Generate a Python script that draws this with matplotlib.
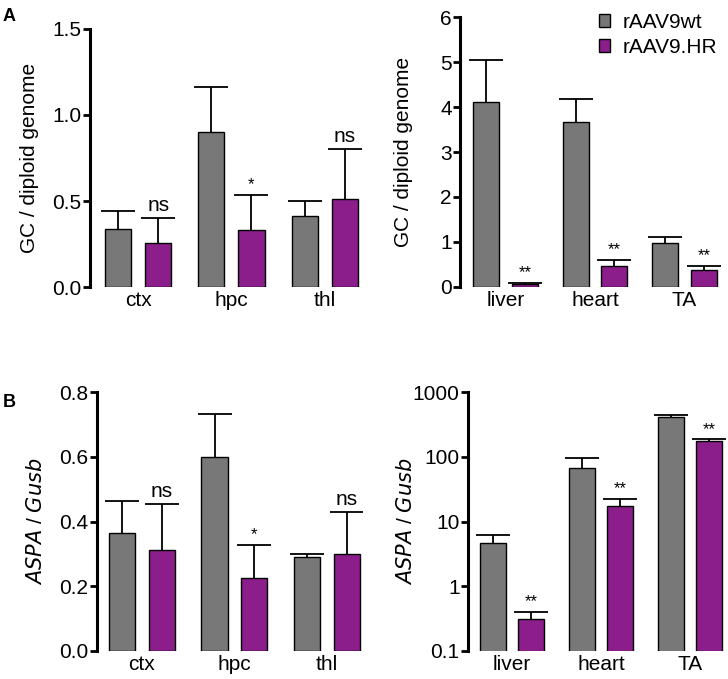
import numpy as np
import matplotlib.pyplot as plt
from matplotlib.patches import Patch

plt.rcParams['font.family'] = ['Liberation Sans', 'DejaVu Sans']

GRAY = '#787878'
PURPLE = '#8c1e8c'
FS = 15

# panel A: vector genome copies
brain_regions = ['ctx', 'hpc', 'thl']
gc_brain_wt = [0.337, 0.899, 0.415]
gc_brain_wt_err = [0.107, 0.264, 0.087]
gc_brain_hr = [0.256, 0.333, 0.514]
gc_brain_hr_err = [0.144, 0.204, 0.288]
gc_brain_sig = ['ns', '*', 'ns']

tissues = ['liver', 'heart', 'TA']
gc_tis_wt = [4.11, 3.66, 0.97]
gc_tis_wt_err = [0.94, 0.53, 0.14]
gc_tis_hr = [0.05, 0.47, 0.37]
gc_tis_hr_err = [0.025, 0.13, 0.10]
gc_tis_sig = ['**', '**', '**']

# panel B: ASPA expression
aspa_brain_wt = [0.363, 0.600, 0.289]
aspa_brain_wt_err = [0.100, 0.134, 0.010]
aspa_brain_hr = [0.313, 0.224, 0.300]
aspa_brain_hr_err = [0.142, 0.104, 0.129]
aspa_brain_sig = ['ns', '*', 'ns']

aspa_tis_wt = [4.64, 68.5, 412]
aspa_tis_wt_err = [1.53, 27.1, 36]
aspa_tis_hr = [0.307, 17.4, 176]
aspa_tis_hr_err = [0.096, 5.2, 10]
aspa_tis_sig = ['**', '**', '**']

W, H = 728, 679


def px_axes(fig, x0, x1, ytop, ybot):
    return fig.add_axes([x0 / W, 1 - ybot / H, (x1 - x0) / W, (ybot - ytop) / H])


def draw_panel(ax, labels, wt, wt_err, hr, hr_err, sig, ylabel, bar_w, offset, log=False):
    x = np.arange(len(labels))
    for xs, vals, errs, col in [(x - offset, wt, wt_err, GRAY), (x + offset, hr, hr_err, PURPLE)]:
        ax.bar(xs, vals, width=bar_w, color=col, edgecolor='black', linewidth=1.0, zorder=2)
        eb = ax.errorbar(xs, vals, yerr=[np.zeros(len(vals)), errs], fmt='none', ecolor='black',
                         elinewidth=1.3, capsize=12, capthick=1.3, zorder=1)
        eb[1][0].set_visible(False)  # only the upper cap
    for i, s in enumerate(sig):
        top = hr[i] + hr_err[i]
        fs = FS if s == 'ns' else 12
        ax.annotate(s, (x[i] + offset, top), xytext=(0, 2), textcoords='offset points',
                    ha='center', va='bottom', fontsize=fs)
    ax.set_xticks(x)
    ax.set_xticklabels(labels, fontsize=FS)
    ax.tick_params(axis='x', length=0, pad=3)
    ax.tick_params(axis='y', labelsize=FS, width=2, length=5, pad=1, direction='out')
    for side in ['top', 'right', 'bottom']:
        ax.spines[side].set_visible(False)
    ax.spines['left'].set_linewidth(2.2)
    ax.set_ylabel(ylabel, fontsize=FS)
    if log:
        ax.set_yscale('log')


fig = plt.figure(figsize=(W / 100, H / 100), dpi=100)

# A left
ax1 = px_axes(fig, 90, 362, 29, 287)
draw_panel(ax1, brain_regions, gc_brain_wt, gc_brain_wt_err, gc_brain_hr, gc_brain_hr_err,
           gc_brain_sig, 'GC / diploid genome', 0.28, 0.215)
ax1.set_ylim(0, 1.5)
ax1.set_xlim(-0.516, 2.4)
ax1.set_yticks([0, 0.5, 1.0, 1.5])
ax1.set_yticklabels(['0.0', '0.5', '1.0', '1.5'])
ax1.yaxis.set_label_coords(-0.188, 0.5)

# A right
ax2 = px_axes(fig, 460, 722, 17.3, 286.7)
draw_panel(ax2, tissues, gc_tis_wt, gc_tis_wt_err, gc_tis_hr, gc_tis_hr_err,
           gc_tis_sig, 'GC / diploid genome', 0.29, 0.216)
ax2.set_ylim(0, 6)
ax2.set_xlim(-0.511, 2.42)
ax2.set_yticks(range(7))
ax2.yaxis.set_label_coords(-0.18, 0.5)

# B left
ax3 = px_axes(fig, 96.7, 362, 392.3, 650.7)
draw_panel(ax3, brain_regions, aspa_brain_wt, aspa_brain_wt_err, aspa_brain_hr, aspa_brain_hr_err,
           aspa_brain_sig, '$\\it{ASPA}$ / $\\it{Gusb}$', 0.285, 0.215)
ax3.set_ylim(0, 0.8)
ax3.set_xlim(-0.49, 2.38)
ax3.set_yticks([0, 0.2, 0.4, 0.6, 0.8])
ax3.set_yticklabels(['0.0', '0.2', '0.4', '0.6', '0.8'])
ax3.yaxis.set_label_coords(-0.19, 0.5)

# B right
ax4 = px_axes(fig, 468, 726, 392.3, 650.7)
draw_panel(ax4, tissues, aspa_tis_wt, aspa_tis_wt_err, aspa_tis_hr, aspa_tis_hr_err,
           aspa_tis_sig, '$\\it{ASPA}$ / $\\it{Gusb}$', 0.29, 0.213, log=True)
ax4.set_ylim(0.1, 1000)
ax4.set_xlim(-0.49, 2.4)
ax4.set_yticks([0.1, 1, 10, 100, 1000])
ax4.set_yticklabels(['0.1', '1', '10', '100', '1000'])
ax4.minorticks_off()
ax4.yaxis.set_label_coords(-0.2, 0.5)

handles = [Patch(facecolor=GRAY, edgecolor='black', linewidth=1.0, label='rAAV9wt'),
           Patch(facecolor=PURPLE, edgecolor='black', linewidth=1.0, label='rAAV9.HR')]
fig.legend(handles=handles, loc='upper left', bbox_to_anchor=(580 / W, 1 + 6 / H), frameon=False,
           fontsize=FS, handlelength=0.55, handleheight=0.6, handletextpad=0.6, labelspacing=0.3)

fig.text(3 / W, 1 - 21 / H, 'A', fontsize=13, fontweight='bold')
fig.text(3 / W, 1 - 407 / H, 'B', fontsize=13, fontweight='bold')

fig.savefig('out.png', dpi=100)
